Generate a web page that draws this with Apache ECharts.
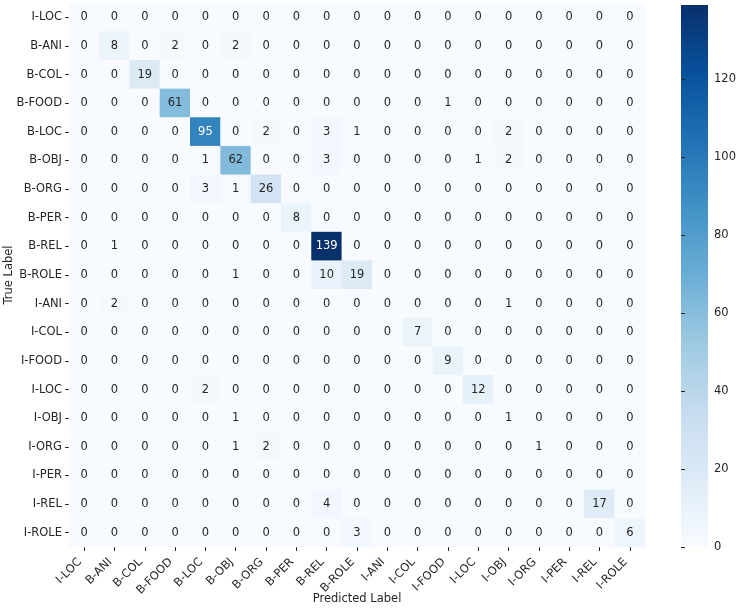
<!DOCTYPE html>
<html>
<head>
<meta charset="utf-8">
<script src="https://cdn.jsdelivr.net/npm/echarts@6/dist/echarts.min.js"></script>
<style>
  html, body { margin: 0; padding: 0; background: #fff; }
  #chart { width: 738px; height: 610px; }
</style>
</head>
<body>
<div id="chart"></div>
<script>
// labels, same order for rows (true) and columns (predicted)
var labels = ['I-LOC', 'B-ANI', 'B-COL', 'B-FOOD', 'B-LOC', 'B-OBJ', 'B-ORG', 'B-PER', 'B-REL', 'B-ROLE',
    'I-ANI', 'I-COL', 'I-FOOD', 'I-LOC', 'I-OBJ', 'I-ORG', 'I-PER', 'I-REL', 'I-ROLE'];

// confusion matrix, one row per true label
var matrix = [
    [0, 0, 0, 0, 0, 0, 0, 0, 0, 0, 0, 0, 0, 0, 0, 0, 0, 0, 0],
    [0, 8, 0, 2, 0, 2, 0, 0, 0, 0, 0, 0, 0, 0, 0, 0, 0, 0, 0],
    [0, 0, 19, 0, 0, 0, 0, 0, 0, 0, 0, 0, 0, 0, 0, 0, 0, 0, 0],
    [0, 0, 0, 61, 0, 0, 0, 0, 0, 0, 0, 0, 1, 0, 0, 0, 0, 0, 0],
    [0, 0, 0, 0, 95, 0, 2, 0, 3, 1, 0, 0, 0, 0, 2, 0, 0, 0, 0],
    [0, 0, 0, 0, 1, 62, 0, 0, 3, 0, 0, 0, 0, 1, 2, 0, 0, 0, 0],
    [0, 0, 0, 0, 3, 1, 26, 0, 0, 0, 0, 0, 0, 0, 0, 0, 0, 0, 0],
    [0, 0, 0, 0, 0, 0, 0, 8, 0, 0, 0, 0, 0, 0, 0, 0, 0, 0, 0],
    [0, 1, 0, 0, 0, 0, 0, 0, 139, 0, 0, 0, 0, 0, 0, 0, 0, 0, 0],
    [0, 0, 0, 0, 0, 1, 0, 0, 10, 19, 0, 0, 0, 0, 0, 0, 0, 0, 0],
    [0, 2, 0, 0, 0, 0, 0, 0, 0, 0, 0, 0, 0, 0, 1, 0, 0, 0, 0],
    [0, 0, 0, 0, 0, 0, 0, 0, 0, 0, 0, 7, 0, 0, 0, 0, 0, 0, 0],
    [0, 0, 0, 0, 0, 0, 0, 0, 0, 0, 0, 0, 9, 0, 0, 0, 0, 0, 0],
    [0, 0, 0, 0, 2, 0, 0, 0, 0, 0, 0, 0, 0, 12, 0, 0, 0, 0, 0],
    [0, 0, 0, 0, 0, 1, 0, 0, 0, 0, 0, 0, 0, 0, 1, 0, 0, 0, 0],
    [0, 0, 0, 0, 0, 1, 2, 0, 0, 0, 0, 0, 0, 0, 0, 1, 0, 0, 0],
    [0, 0, 0, 0, 0, 0, 0, 0, 0, 0, 0, 0, 0, 0, 0, 0, 0, 0, 0],
    [0, 0, 0, 0, 0, 0, 0, 0, 4, 0, 0, 0, 0, 0, 0, 0, 0, 17, 0],
    [0, 0, 0, 0, 0, 0, 0, 0, 0, 3, 0, 0, 0, 0, 0, 0, 0, 0, 6]
];

var cbarTickMax = 120;   // colorbar ticks 0..120 step 20
var cbarTickStep = 20;
var vmax = 139;

// matplotlib Blues
var blues = ['#f7fbff', '#deebf7', '#c6dbef', '#9ecae1', '#6baed6', '#4292c6', '#2171b5', '#08519c', '#08306b'];

var font = 'DejaVu Sans';
var fsize = 11.5;
var textColor = '#262626';

// colorbar box
var cbLeft = 681, cbTop = 5, cbWidth = 27, cbHeight = 542;
// axis for the colorbar covers 0..cbarTickMax only, so no extra tick at vmax
var cbAxisHeight = cbHeight * cbarTickMax / vmax;

var cells = [];
for (let i = 0; i < matrix.length; i++) {
    for (let j = 0; j < matrix[i].length; j++) {
        var v = matrix[i][j];
        cells.push({
            value: [j, i, v],
            label: { color: v > 80 ? '#ffffff' : textColor }
        });
    }
}

var gradStops = blues.map(function (c, k) {
    return { offset: 1 - k / (blues.length - 1), color: c };
});

var myChart = echarts.init(document.getElementById('chart'));
var option = {
    backgroundColor: '#fff',
    animation: false,
    grid: [
        { left: 69, top: 3, width: 576, height: 544, outerBoundsMode: 'none', containLabel: false },
        { left: cbLeft, top: cbTop + cbHeight - cbAxisHeight, width: cbWidth, height: cbAxisHeight, outerBoundsMode: 'none', containLabel: false }
    ],
    graphic: [{
        type: 'rect',
        left: cbLeft,
        top: cbTop,
        shape: { width: cbWidth, height: cbHeight },
        style: { fill: new echarts.graphic.LinearGradient(0, 0, 0, 1, gradStops) },
        z: 0
    }],
    xAxis: [{
        type: 'category',
        gridIndex: 0,
        data: labels,
        position: 'bottom',
        axisLine: { show: false },
        axisTick: { show: true, alignWithLabel: true, length: 4, lineStyle: { color: textColor } },
        // padding shifts the rotated text like matplotlib's ha='right'
        axisLabel: { rotate: 45, margin: 9, padding: [0, 6, 0, 0], fontFamily: font, fontSize: fsize, color: textColor },
        splitLine: { show: false },
        name: 'Predicted Label',
        nameLocation: 'middle',
        nameGap: 46,
        nameMoveOverlap: false,
        nameTextStyle: { fontFamily: font, fontSize: fsize, color: textColor }
    }, {
        type: 'value',
        gridIndex: 1,
        show: false
    }],
    yAxis: [{
        type: 'category',
        gridIndex: 0,
        data: labels,
        inverse: true,
        axisLine: { show: false },
        axisTick: { show: true, alignWithLabel: true, length: 4, lineStyle: { color: textColor } },
        axisLabel: { margin: 7, fontFamily: font, fontSize: fsize, color: textColor },
        splitLine: { show: false },
        name: 'True Label',
        nameLocation: 'middle',
        nameGap: 54,
        nameMoveOverlap: false,
        nameTextStyle: { fontFamily: font, fontSize: fsize, color: textColor }
    }, {
        // colorbar scale
        type: 'value',
        gridIndex: 1,
        position: 'right',
        min: 0,
        max: cbarTickMax,
        interval: cbarTickStep,
        axisLine: { show: false },
        axisTick: { show: true, length: 4, lineStyle: { color: textColor } },
        axisLabel: { margin: 6, fontFamily: font, fontSize: fsize, color: textColor },
        splitLine: { show: false }
    }],
    visualMap: {
        type: 'continuous',
        show: false,
        min: 0,
        max: vmax,
        seriesIndex: 0,
        inRange: { color: blues }
    },
    series: [{
        type: 'heatmap',
        xAxisIndex: 0,
        yAxisIndex: 0,
        data: cells,
        itemStyle: { borderWidth: 0 },
        label: {
            show: true,
            fontFamily: font,
            fontSize: fsize,
            formatter: function (p) { return p.value[2]; }
        },
        emphasis: { disabled: true }
    }]
};
myChart.setOption(option);
</script>
</body>
</html>
